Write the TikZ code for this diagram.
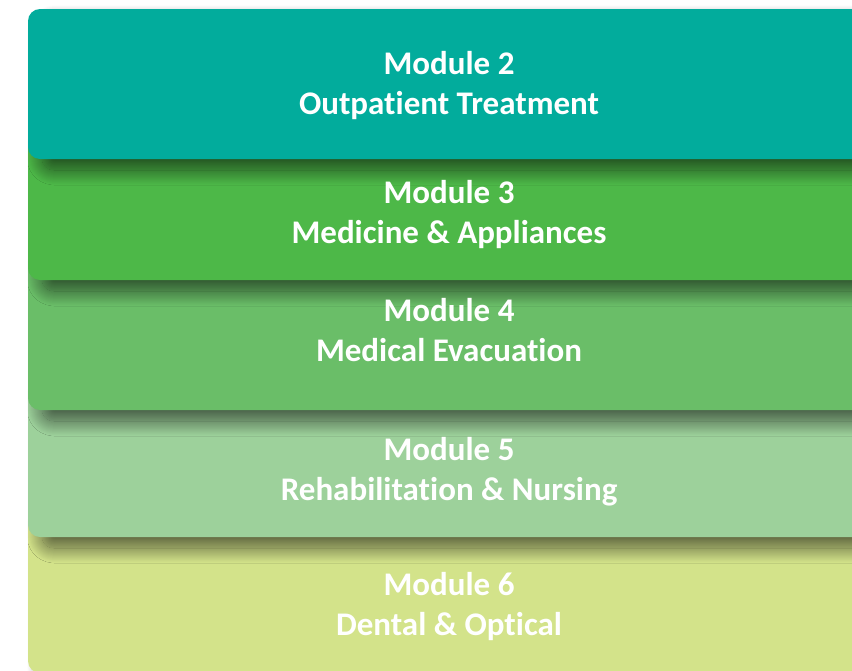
\documentclass[tikz,border=0pt]{standalone}
\usepackage{fontspec}
\setmainfont{Carlito}[Ligatures=NoCommon]
\usetikzlibrary{shadows.blur}

\definecolor{modtwo}{HTML}{02AC9C}
\definecolor{modthree}{HTML}{4DB848}
\definecolor{modfour}{HTML}{6ABE68}
\definecolor{modfive}{HTML}{9DD19B}
\definecolor{modsix}{HTML}{D3E38A}

\begin{document}
\begin{tikzpicture}[x=1pt, y=-1pt,
  band/.style={rounded corners=12pt,
    blur shadow={shadow xshift=14pt, shadow yshift=-11pt,
      shadow blur radius=15pt, shadow blur steps=30, shadow opacity=60}},
  modlabel/.style={text=white, align=center,
    font=\bfseries\fontsize{33}{40}\selectfont}]
\useasboundingbox (0,0) rectangle (852,670);
\clip (0,0) rectangle (852,670);

% bands, bottom one first
\fill[modsix,   band] (28,500) rectangle (900,673);
\fill[modfive,  band] (28,370) rectangle (900,537);
\fill[modfour,  band] (28,240) rectangle (900,410);
\fill[modthree, band] (28,120) rectangle (900,280);
\fill[modtwo,   band] (28,9)   rectangle (900,159);

% labels
\node[modlabel] (m2) at (449,86)  {Module 2\\Outpatient Treatment};
\node[modlabel] (m3) at (449,215) {Module 3\\Medicine \& Appliances};
\node[modlabel] (m4) at (449,330) {Module 4\\Medical Evacuation};
\node[modlabel] (m5) at (449,472) {Module 5\\Rehabilitation \& Nursing};
\node[modlabel] (m6) at (449,607) {Module 6\\Dental \& Optical};
\end{tikzpicture}
\end{document}
